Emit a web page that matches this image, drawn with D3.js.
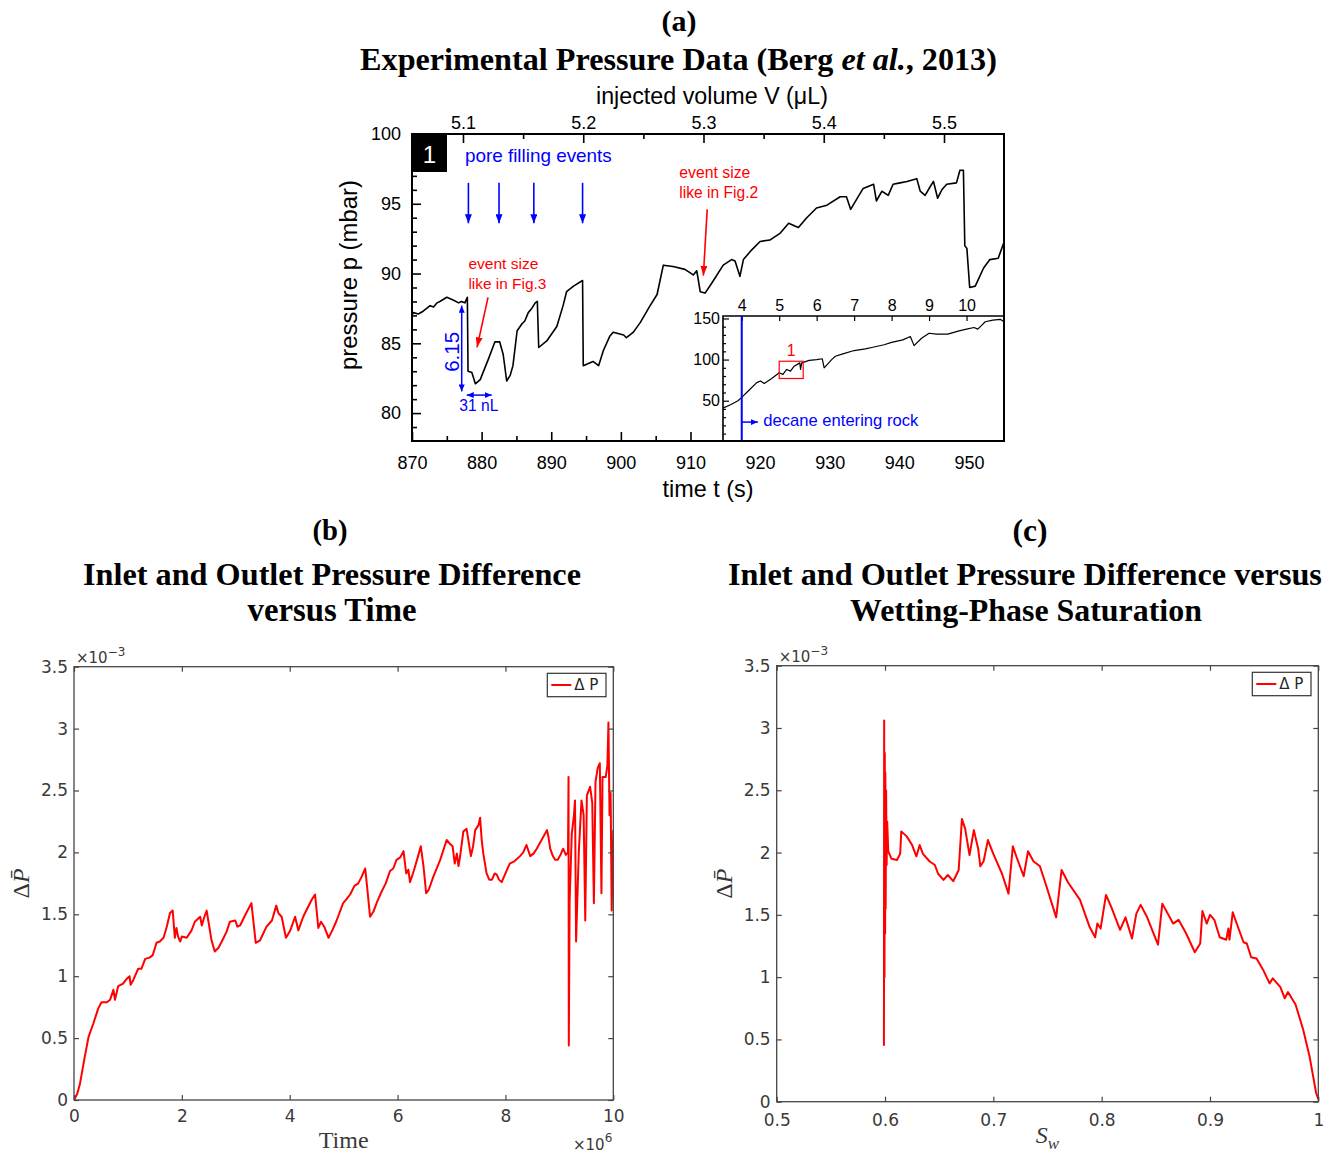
<!DOCTYPE html>
<html><head><meta charset="utf-8">
<script src="https://cdn.jsdelivr.net/npm/d3@7/dist/d3.min.js"></script>
<style>html,body{margin:0;padding:0;background:#fff}svg{display:block}</style>
</head><body>
<svg id="fig" width="1338" height="1155" xmlns="http://www.w3.org/2000/svg"></svg>
<script>
// ================= DATA =================
// Panel (a): experimental pressure vs time
const timeA = [870.0, 870.2, 870.9, 871.6, 872.6, 873.1, 873.6, 874.0, 875.0, 875.9,
  876.7, 877.1, 877.6, 877.95, 878.05, 878.6,
  879.1, 879.8, 881.0, 881.9, 882.6, 883.1, 883.6, 884.1, 884.5, 885.1, 885.8, 886.2, 886.7, 887.2, 887.7,
  888.0, 888.2, 889.4, 890.8, 891.7, 892.2, 893.2, 894.5, 894.6,
  896.0, 896.8, 897.5, 898.4, 898.9, 900.4, 900.8, 901.8, 902.8, 904.2,
  905.2, 906.1, 907.5, 909.2, 910.4, 910.9, 911.4, 912.1, 913.3, 914.7,
  915.9, 916.4, 917.1, 917.6, 918.8, 920.0, 921.4, 922.9, 924.1, 925.0,
  925.5, 926.7, 928.1, 929.6, 931.5, 932.4, 933.0, 933.6, 934.8, 936.3,
  936.7, 937.5, 938.4, 939.1, 940.1, 941.1, 942.5, 943.0, 943.7, 944.4,
  944.9, 945.5, 946.1, 946.8, 948.2, 948.7, 949.2, 949.4, 949.7, 950.1,
  950.9, 952.1, 953.0, 954.2, 955.0];
const pressureA = [87.0, 87.2, 87.1, 87.3, 87.7, 87.6, 87.9, 88.0, 88.3, 88.1,
  87.9, 88.0, 87.9, 88.3, 83.0, 82.9,
  82.1, 82.4, 83.9, 85.1, 85.1, 84.2, 82.3, 82.7, 83.4, 85.9, 86.4, 86.6, 87.2, 87.5, 87.9,
  88.0, 84.7, 85.2, 86.2, 87.7, 88.7, 89.1, 89.5, 83.4,
  83.7, 83.4, 84.5, 85.5, 85.8, 85.6, 85.4, 85.8, 86.5, 87.7,
  88.5, 90.6, 90.5, 90.3, 89.9, 90.2, 88.7, 88.6, 89.5, 90.6,
  91.0, 90.9, 89.8, 91.0, 91.7, 92.3, 92.4, 92.9, 93.6, 93.4,
  93.3, 94.0, 94.7, 94.9, 95.5, 95.5, 94.6, 95.1, 96.1, 96.4,
  95.2, 95.9, 95.6, 96.4, 96.5, 96.6, 96.8, 95.9, 95.6, 96.2,
  96.6, 95.4, 96.0, 96.4, 96.5, 97.4, 97.4, 92.0, 91.8, 89.0,
  89.1, 90.4, 91.0, 91.1, 92.2];
// Panel (a) inset: long-term record
const insetX = [3.5, 3.7, 3.9, 4.0, 4.2, 4.4, 4.5, 4.6, 4.8, 5.0, 5.1, 5.2, 5.3, 5.4, 5.55, 5.57, 5.6,
  5.8, 6.0, 6.15, 6.2, 6.4, 6.5, 6.7, 7.0, 7.3, 7.5, 7.8, 8.0, 8.3, 8.5, 8.6, 8.8, 9.0, 9.2,
  9.5, 9.8, 10.0, 10.2, 10.3, 10.5, 10.7, 10.9, 11.0];
const insetY = [41, 45, 50, 54, 63, 72, 74, 71, 77, 84, 82, 88, 86, 92, 96, 88, 96,
  99, 100, 101, 90, 100, 104, 107, 111, 113, 115, 118, 121, 124, 128, 117, 126, 132, 131,
  131, 135, 137, 139, 137, 146, 148, 149, 146];
const poreEventTimes = [878.1, 882.5, 887.5, 894.5];

// Panel (b): ΔP (×1e-3) vs time (×1e6)
const timeB = [0.00, 0.06, 0.11, 0.20, 0.27, 0.36, 0.45, 0.51, 0.61, 0.67, 0.73, 0.76, 0.82, 0.91, 0.98,
  1.03, 1.05, 1.10, 1.19, 1.25, 1.32, 1.40, 1.46, 1.53, 1.59, 1.66, 1.72, 1.78, 1.83, 1.87, 1.90, 1.93, 1.97,
  2.00, 2.09, 2.18, 2.24, 2.34, 2.37, 2.41, 2.46, 2.49, 2.55, 2.61, 2.68, 2.74, 2.83, 2.89, 2.99,
  3.03, 3.08, 3.17, 3.29, 3.37, 3.45, 3.57, 3.67, 3.75, 3.79, 3.85, 3.93,
  4.01, 4.10, 4.16, 4.25, 4.41, 4.47, 4.53, 4.58, 4.64, 4.72, 4.80, 4.87, 4.99,
  5.05, 5.12, 5.20, 5.27, 5.33, 5.40, 5.44, 5.49, 5.55, 5.62, 5.70, 5.78, 5.86, 5.92, 5.98,
  6.05, 6.11, 6.16, 6.20, 6.23, 6.30, 6.38, 6.43, 6.48, 6.53, 6.58, 6.66, 6.79, 6.91, 6.97,
  7.02, 7.06, 7.10, 7.13, 7.16, 7.22, 7.28, 7.33, 7.36, 7.40, 7.44, 7.50, 7.53, 7.56, 7.59, 7.65, 7.70,
  7.75, 7.80, 7.84, 7.88, 7.93, 8.00, 8.08, 8.17, 8.27, 8.33, 8.39, 8.46, 8.52, 8.58, 8.67, 8.77, 8.80,
  8.83, 8.88, 8.92, 8.97, 9.02, 9.07, 9.12, 9.16, 9.17, 9.175, 9.19, 9.23, 9.27, 9.29, 9.31, 9.36,
  9.41, 9.45, 9.48, 9.51, 9.57, 9.61, 9.64, 9.67, 9.71, 9.75, 9.78, 9.80, 9.86, 9.89, 9.91, 9.93,
  9.95, 9.97, 10.0];
const dpB = [0.00, 0.05, 0.13, 0.35, 0.51, 0.62, 0.74, 0.79, 0.79, 0.81, 0.89, 0.81, 0.92, 0.94, 0.98,
  1.00, 0.93, 0.97, 1.06, 1.06, 1.14, 1.15, 1.17, 1.27, 1.28, 1.31, 1.40, 1.51, 1.53, 1.31, 1.39, 1.32, 1.28,
  1.32, 1.31, 1.37, 1.44, 1.48, 1.41, 1.47, 1.53, 1.45, 1.29, 1.20, 1.23, 1.28, 1.36, 1.44, 1.45,
  1.40, 1.41, 1.49, 1.59, 1.27, 1.29, 1.40, 1.45, 1.57, 1.51, 1.48, 1.31,
  1.37, 1.48, 1.37, 1.48, 1.62, 1.66, 1.39, 1.44, 1.40, 1.31, 1.38, 1.45, 1.59,
  1.62, 1.66, 1.73, 1.75, 1.80, 1.87, 1.70, 1.48, 1.52, 1.60, 1.68, 1.75, 1.85, 1.87, 1.94,
  1.96, 2.01, 1.83, 1.86, 1.76, 1.85, 1.97, 2.05, 1.89, 1.67, 1.70, 1.80, 1.94, 2.10, 2.07,
  2.05, 1.91, 1.99, 1.89, 1.97, 2.17, 2.19, 2.05, 1.97, 2.05, 2.18, 2.22, 2.28, 2.10, 1.99, 1.83, 1.78,
  1.78, 1.83, 1.82, 1.78, 1.76, 1.83, 1.91, 1.93, 1.97, 2.00, 2.06, 1.97, 1.99, 2.03, 2.10, 2.18, 2.12,
  2.03, 1.97, 1.94, 1.94, 1.98, 2.03, 1.98, 2.00, 2.61, 0.44, 1.60, 2.15, 2.30, 2.42, 1.28, 2.00,
  2.42, 2.30, 1.45, 2.46, 2.53, 2.40, 1.59, 2.57, 2.68, 2.72, 1.67, 2.61, 2.61, 2.70, 3.05, 2.30,
  2.48, 1.53, 2.18];

// Panel (c): ΔP (×1e-3) vs wetting-phase saturation
const satC = [0.5990, 0.5992, 0.5995, 0.5998, 0.6001, 0.6003, 0.6006, 0.6010, 0.6015, 0.6020, 0.6030,
  0.606, 0.611, 0.614, 0.615, 0.620, 0.625, 0.629, 0.632, 0.635, 0.641, 0.646, 0.649, 0.654, 0.658,
  0.663, 0.668, 0.671, 0.674, 0.678, 0.682, 0.686, 0.688, 0.691, 0.695, 0.700, 0.708, 0.714, 0.718,
  0.722, 0.728, 0.732, 0.737, 0.743, 0.749, 0.758, 0.763, 0.769, 0.780, 0.789, 0.794, 0.796, 0.799,
  0.804, 0.809, 0.817, 0.822, 0.828, 0.832, 0.836, 0.842, 0.852, 0.856, 0.866, 0.871, 0.878, 0.886,
  0.891, 0.893, 0.897, 0.900, 0.904, 0.909, 0.915, 0.917, 0.918, 0.921, 0.928, 0.931, 0.934, 0.938,
  0.943, 0.949, 0.955, 0.958, 0.965, 0.969, 0.972, 0.979, 0.986, 0.992, 0.998, 1.000];
const dpC = [0.45, 3.06, 1.00, 2.80, 1.35, 2.64, 1.55, 2.50, 1.90, 2.25, 2.01,
  1.95, 1.94, 1.99, 2.17, 2.13, 2.06, 1.97, 2.06, 1.99, 1.93, 1.90, 1.83, 1.78, 1.82,
  1.77, 1.86, 2.27, 2.19, 1.98, 2.18, 2.03, 1.89, 1.93, 2.10, 1.99, 1.83, 1.67, 2.05,
  1.95, 1.81, 2.01, 1.93, 1.89, 1.73, 1.48, 1.86, 1.76, 1.62, 1.40, 1.32, 1.43, 1.39,
  1.66, 1.56, 1.38, 1.48, 1.31, 1.51, 1.58, 1.48, 1.26, 1.59, 1.43, 1.46, 1.35, 1.20,
  1.27, 1.53, 1.43, 1.50, 1.46, 1.32, 1.30, 1.39, 1.30, 1.52, 1.35, 1.28, 1.27, 1.16,
  1.15, 1.06, 0.95, 0.99, 0.92, 0.83, 0.88, 0.78, 0.58, 0.36, 0.07, 0.02];

// Tick values
const xTicksA = [870, 880, 890, 900, 910, 920, 930, 940, 950];
const xMinorA = [875, 885, 895, 905, 915, 925, 935, 945];
const yTicksA = [80, 85, 90, 95, 100];
const yMinorA = [79, 81, 82, 83, 84, 86, 87, 88, 89, 91, 92, 93, 94, 96, 97, 98, 99];
const volTicksA = [5.1, 5.2, 5.3, 5.4, 5.5];
const volMinorA = [5.15, 5.25, 5.35, 5.45];
const xTicksInset = [4, 5, 6, 7, 8, 9, 10];
const yTicksInset = [50, 100, 150];
const yMinorInset = [10, 20, 30, 40, 60, 70, 80, 90, 110, 120, 130, 140];
const xTicksB = [0, 2, 4, 6, 8, 10];
const yTicksBC = [0, 0.5, 1, 1.5, 2, 2.5, 3, 3.5];
const xTicksC = [0.5, 0.6, 0.7, 0.8, 0.9, 1];

// ================= DRAWING =================
const svg = d3.select('#fig');
const SANS = "'Liberation Sans', Arial, Helvetica, sans-serif";
const SERIF = "'Liberation Serif', 'Times New Roman', serif";
const ML = "'DejaVu Sans', sans-serif";

function fit(sel, w) {
  const L = sel.node().getComputedTextLength();
  const fs = parseFloat(sel.attr('font-size'));
  if (L > 0) sel.attr('font-size', (fs * w / L).toFixed(2));
  return sel;
}
const defs = svg.append('defs');
function marker(id, color, len, wid) {
  defs.append('marker').attr('id', id).attr('viewBox', `0 0 ${len} ${wid}`)
    .attr('refX', len).attr('refY', wid / 2).attr('markerWidth', len).attr('markerHeight', wid)
    .attr('markerUnits', 'userSpaceOnUse').attr('orient', 'auto-start-reverse')
    .append('path').attr('d', `M0,0 L${len},${wid / 2} L0,${wid} Z`).attr('fill', color);
}
marker('hb', '#0000ff', 9, 7);
marker('hbs', '#0000ff', 7, 6);
marker('hr', '#ff0000', 10, 7);

function styleAxis(g, color, fam, size, sw) {
  g.select('.domain').remove();
  g.attr('color', color).attr('font-family', fam).attr('font-size', size);
  g.selectAll('line').attr('stroke-width', sw);
  return g;
}

// ---------- Titles ----------
function title(txt, x, y, w, italicPart) {
  const t = svg.append('text').attr('x', x).attr('y', y).attr('text-anchor', 'middle')
    .attr('font-family', SERIF).attr('font-weight', 'bold').attr('font-size', 28).attr('fill', '#000');
  if (italicPart) {
    t.append('tspan').text(txt[0]);
    t.append('tspan').attr('font-style', 'italic').text(txt[1]);
    t.append('tspan').text(txt[2]);
  } else t.text(txt);
  if (w) fit(t, w);
  return t;
}
title('(a)', 679, 31, 35);
title(['Experimental Pressure Data (Berg ', 'et al.', ', 2013)'], 678.5, 70, 637, true);
title('(b)', 330, 540, 35);
title('Inlet and Outlet Pressure Difference', 332, 585, 498);
title('versus Time', 332, 621, 169);
title('(c)', 1030, 541, 35);
title('Inlet and Outlet Pressure Difference versus', 1025, 585, 594);
title('Wetting-Phase Saturation', 1026, 621, 352);

// ---------- Panel (a) ----------
const A = { l: 412, r: 1004, t: 134, b: 441 };
const xA = d3.scaleLinear().domain([870, 955.03]).range([A.l, A.r]);
const yA = d3.scaleLinear().domain([78, 100]).range([A.b, A.t]);
const vA = d3.scaleLinear().domain([5.0576, 5.5499]).range([A.l, A.r]);
const gA = svg.append('g');

gA.append('path').datum(d3.zip(timeA, pressureA))
  .attr('d', d3.line().x(d => xA(d[0])).y(d => yA(d[1])))
  .attr('fill', 'none').attr('stroke', '#000').attr('stroke-width', 1.6).attr('stroke-linejoin', 'round');

// axes
styleAxis(gA.append('g').attr('transform', `translate(0,${A.b})`)
  .call(d3.axisBottom(xA).tickValues(xTicksA).tickSize(-9).tickPadding(15).tickFormat(d3.format('d'))), '#000', SANS, 18, 1.6);
styleAxis(gA.append('g').attr('transform', `translate(0,${A.b})`)
  .call(d3.axisBottom(xA).tickValues(xMinorA).tickSize(-5).tickFormat('')), '#000', SANS, 18, 1.6);
styleAxis(gA.append('g').attr('transform', `translate(${A.l},0)`)
  .call(d3.axisLeft(yA).tickValues(yTicksA).tickSize(-9).tickPadding(11).tickFormat(d3.format('d'))), '#000', SANS, 18, 1.6);
styleAxis(gA.append('g').attr('transform', `translate(${A.l},0)`)
  .call(d3.axisLeft(yA).tickValues(yMinorA).tickSize(-5).tickFormat('')), '#000', SANS, 18, 1.6);
styleAxis(gA.append('g').attr('transform', `translate(0,${A.t})`)
  .call(d3.axisTop(vA).tickValues(volTicksA).tickSize(-9).tickPadding(5).tickFormat(d3.format('.1f'))), '#000', SANS, 18, 1.6);
styleAxis(gA.append('g').attr('transform', `translate(0,${A.t})`)
  .call(d3.axisTop(vA).tickValues(volMinorA).tickSize(-5).tickFormat('')), '#000', SANS, 18, 1.6);

// frame
gA.append('path').attr('d', `M${A.l},${A.t}H${A.r}V${A.b}H${A.l}Z`).attr('fill', 'none')
  .attr('stroke', '#000').attr('stroke-width', 2);

// axis labels
fit(gA.append('text').attr('x', 708).attr('y', 497).attr('text-anchor', 'middle').attr('font-family', SANS)
  .attr('font-size', 20).text('time t (s)'), 91);
fit(gA.append('text').attr('x', 712).attr('y', 104).attr('text-anchor', 'middle').attr('font-family', SANS)
  .attr('font-size', 20).text('injected volume V (μL)'), 232);
fit(gA.append('text').attr('transform', 'translate(357,275) rotate(-90)').attr('text-anchor', 'middle')
  .attr('font-family', SANS).attr('font-size', 20).text('pressure p (mbar)'), 190);

// black label box "1"
gA.append('rect').attr('x', A.l).attr('y', A.t + 1).attr('width', 35).attr('height', 37).attr('fill', '#000');
gA.append('text').attr('x', A.l + 17.5).attr('y', A.t + 29).attr('text-anchor', 'middle').attr('font-family', SANS)
  .attr('font-size', 24).attr('fill', '#fff').text('1');

// pore filling events
fit(gA.append('text').attr('x', xA(877.6)).attr('y', yA(98.0)).attr('font-family', SANS).attr('font-size', 19)
  .attr('fill', '#0000ff').text('pore filling events'), 147);
gA.selectAll('line.pore').data(poreEventTimes).join('line').attr('class', 'pore')
  .attr('x1', d => xA(d)).attr('x2', d => xA(d)).attr('y1', yA(96.5)).attr('y2', yA(93.6))
  .attr('stroke', '#0000ff').attr('stroke-width', 1.6).attr('marker-end', 'url(#hb)');

// event size annotations
function redNote(x, y1, y2, w1, w2, line2) {
  fit(gA.append('text').attr('x', xA(x)).attr('y', yA(y1)).attr('font-family', SANS).attr('font-size', 15)
    .attr('fill', '#ff0000').text('event size'), w1);
  fit(gA.append('text').attr('x', xA(x)).attr('y', yA(y2)).attr('font-family', SANS).attr('font-size', 15)
    .attr('fill', '#ff0000').text(line2), w2);
}
redNote(908.4, 96.86, 95.43, 71, 79, 'like in Fig.2');
redNote(878.1, 90.36, 88.91, 70, 78, 'like in Fig.3');
gA.append('line').attr('x1', xA(912.4)).attr('y1', yA(94.6)).attr('x2', xA(911.85)).attr('y2', yA(89.85))
  .attr('stroke', '#ff0000').attr('stroke-width', 1.6).attr('marker-end', 'url(#hr)');
gA.append('line').attr('x1', xA(880.92)).attr('y1', yA(88.29)).attr('x2', xA(879.34)).attr('y2', yA(84.71))
  .attr('stroke', '#ff0000').attr('stroke-width', 1.6).attr('marker-end', 'url(#hr)');

// 6.15 and 31 nL
gA.append('line').attr('x1', xA(877.14)).attr('x2', xA(877.14)).attr('y1', yA(87.7)).attr('y2', yA(81.55))
  .attr('stroke', '#0000ff').attr('stroke-width', 1.5).attr('marker-start', 'url(#hbs)').attr('marker-end', 'url(#hbs)');
fit(gA.append('text').attr('transform', `translate(${xA(876.75)},${yA(84.39)}) rotate(-90)`).attr('text-anchor', 'middle')
  .attr('font-family', SANS).attr('font-size', 18).attr('fill', '#0000ff').text('6.15'), 40);
gA.append('line').attr('x1', xA(877.86)).attr('x2', xA(881.45)).attr('y1', yA(81.29)).attr('y2', yA(81.29))
  .attr('stroke', '#0000ff').attr('stroke-width', 1.5).attr('marker-start', 'url(#hbs)').attr('marker-end', 'url(#hbs)');
fit(gA.append('text').attr('x', xA(879.6)).attr('y', yA(80.16)).attr('text-anchor', 'middle')
  .attr('font-family', SANS).attr('font-size', 16).attr('fill', '#0000ff').text('31 nL'), 39);

// ---------- Inset ----------
const I = { l: 723, r: 1004, t: 316, b: 441 };
const xI = d3.scaleLinear().domain([3.5, 11]).range([I.l, I.r]);
const yI = d3.scaleLinear().domain([1, 153]).range([I.b, I.t]);
const gI = svg.append('g');
gI.append('rect').attr('x', I.l).attr('y', I.t).attr('width', I.r - I.l).attr('height', I.b - I.t).attr('fill', '#fff');
gI.append('path').datum(d3.zip(insetX, insetY))
  .attr('d', d3.line().x(d => xI(d[0])).y(d => yI(d[1])))
  .attr('fill', 'none').attr('stroke', '#000').attr('stroke-width', 1.2).attr('stroke-linejoin', 'round');
styleAxis(gI.append('g').attr('transform', `translate(${I.l},0)`)
  .call(d3.axisLeft(yI).tickValues(yTicksInset).tickSize(-6).tickPadding(3).tickFormat(d3.format('d'))), '#000', SANS, 16, 1.2);
styleAxis(gI.append('g').attr('transform', `translate(${I.l},0)`)
  .call(d3.axisLeft(yI).tickValues(yMinorInset).tickSize(-3).tickFormat('')), '#000', SANS, 16, 1.2);
styleAxis(gI.append('g').attr('transform', `translate(0,${I.t})`)
  .call(d3.axisTop(xI).tickValues(xTicksInset).tickSize(-5).tickPadding(5).tickFormat(d3.format('d'))), '#000', SANS, 16, 1.2);
gI.append('path').attr('d', `M${I.l},${I.b}V${I.t}H${I.r}`).attr('fill', 'none').attr('stroke', '#000').attr('stroke-width', 1.6);
// decane entering rock
gI.append('line').attr('x1', xI(4)).attr('x2', xI(4)).attr('y1', I.t).attr('y2', I.b)
  .attr('stroke', '#0000ff').attr('stroke-width', 2);
gI.append('line').attr('x1', xI(4)).attr('x2', xI(4.43)).attr('y1', yI(24)).attr('y2', yI(24))
  .attr('stroke', '#0000ff').attr('stroke-width', 1.5).attr('marker-end', 'url(#hbs)');
fit(gI.append('text').attr('x', xI(4.575)).attr('y', yI(19)).attr('font-family', SANS).attr('font-size', 16)
  .attr('fill', '#0000ff').text('decane entering rock'), 155);
// zoom box
gI.append('rect').attr('x', xI(5.0)).attr('y', yI(98)).attr('width', xI(5.64) - xI(5.0)).attr('height', yI(77) - yI(98))
  .attr('fill', 'none').attr('stroke', '#ff0000').attr('stroke-width', 1.2);
gI.append('text').attr('x', xI(5.32)).attr('y', yI(104)).attr('text-anchor', 'middle').attr('font-family', SANS)
  .attr('font-size', 16).attr('fill', '#ff0000').text('1');
gA.raise();
gI.raise();
svg.append('path').attr('d', `M${A.l},${A.b}H${A.r}V${A.t}`).attr('fill', 'none').attr('stroke', '#000').attr('stroke-width', 2);

// ---------- Panels (b) & (c) ----------
const AX = '#454545';
function matlab(box, xs, ys, xT, xFmt, xData, yData, xPad) {
  const g = svg.append('g');
  g.append('defs').append('clipPath').attr('id', 'clip' + Math.round(box.l)).append('rect')
    .attr('x', box.l).attr('y', box.t).attr('width', box.r - box.l).attr('height', box.b - box.t);
  g.append('path').datum(d3.zip(xData, yData))
    .attr('clip-path', `url(#clip${Math.round(box.l)})`)
    .attr('d', d3.line().x(d => xs(d[0])).y(d => ys(d[1])))
    .attr('fill', 'none').attr('stroke', '#ff0000').attr('stroke-width', 2).attr('stroke-linejoin', 'round');
  styleAxis(g.append('g').attr('transform', `translate(0,${box.b})`)
    .call(d3.axisBottom(xs).tickValues(xT).tickSize(-5).tickPadding(xPad).tickFormat(xFmt)), AX, ML, 17, 1.2);
  styleAxis(g.append('g').attr('transform', `translate(0,${box.t})`)
    .call(d3.axisTop(xs).tickValues(xT).tickSize(-5).tickFormat('')), AX, ML, 17, 1.2);
  styleAxis(g.append('g').attr('transform', `translate(${box.l},0)`)
    .call(d3.axisLeft(ys).tickValues(yTicksBC).tickSize(-5).tickPadding(6).tickFormat(d3.format('~g'))), AX, ML, 17, 1.2);
  styleAxis(g.append('g').attr('transform', `translate(${box.r},0)`)
    .call(d3.axisRight(ys).tickValues(yTicksBC).tickSize(-5).tickFormat('')), AX, ML, 17, 1.2);
  g.selectAll('text').attr('fill', '#3a3a3a');
  g.append('rect').attr('x', box.l).attr('y', box.t).attr('width', box.r - box.l).attr('height', box.b - box.t)
    .attr('fill', 'none').attr('stroke', AX).attr('stroke-width', 1.3);
  // exponent
  const e = g.append('text').attr('x', box.l + 2).attr('y', box.t - 4).attr('font-family', ML).attr('font-size', 15).attr('fill', '#3a3a3a');
  e.append('tspan').text('×10');
  e.append('tspan').attr('dy', -7).attr('font-size', 12).text('−3');
  // legend
  const lx = box.r - 66, ly = box.t + 6.6;
  g.append('rect').attr('x', lx).attr('y', ly).attr('width', 58.7).attr('height', 23.4)
    .attr('fill', '#fff').attr('stroke', '#333').attr('stroke-width', 1.2);
  g.append('line').attr('x1', lx + 4).attr('x2', lx + 24).attr('y1', ly + 11.7).attr('y2', ly + 11.7)
    .attr('stroke', '#ff0000').attr('stroke-width', 2);
  g.append('text').attr('x', lx + 27).attr('y', ly + 17).attr('font-family', ML).attr('font-size', 15)
    .attr('fill', '#262626').attr('xml:space', 'preserve').text('Δ P');
  // y label
  const yl = g.append('text').attr('transform', `translate(${box.l - 45},${(box.t + box.b) / 2}) rotate(-90)`)
    .attr('text-anchor', 'middle').attr('font-family', SERIF).attr('font-size', 24).attr('fill', '#333');
  yl.append('tspan').text('Δ');
  yl.append('tspan').attr('font-style', 'italic').text('P\u0304');
  return g;
}

const B = { l: 74, r: 613.3, t: 666.7, b: 1100 };
const xB = d3.scaleLinear().domain([0, 10]).range([B.l, B.r]);
const yB = d3.scaleLinear().domain([0, 3.5]).range([B.b, B.t]);
const gB = matlab(B, xB, yB, xTicksB, d3.format('d'), timeB, dpB, 10);
gB.append('text').attr('x', (B.l + B.r) / 2).attr('y', 1148).attr('text-anchor', 'middle')
  .attr('font-family', SERIF).attr('font-size', 24).attr('fill', '#3a3a3a').text('Time');
const e6 = gB.append('text').attr('x', B.r - 1).attr('y', 1150).attr('text-anchor', 'end')
  .attr('font-family', ML).attr('font-size', 15).attr('fill', '#3a3a3a');
e6.append('tspan').text('×10');
e6.append('tspan').attr('dy', -8).attr('font-size', 12).text('6');

const C = { l: 776.7, r: 1318.3, t: 665.7, b: 1101.7 };
const xC = d3.scaleLinear().domain([0.5, 1]).range([C.l, C.r]);
const yC = d3.scaleLinear().domain([0, 3.5]).range([C.b, C.t]);
const gC = matlab(C, xC, yC, xTicksC, d3.format('~g'), satC, dpC, 12);
const sw = gC.append('text').attr('x', (C.l + C.r) / 2).attr('y', 1143).attr('text-anchor', 'middle')
  .attr('font-family', SERIF).attr('font-size', 24).attr('font-style', 'italic').attr('fill', '#3a3a3a');
sw.append('tspan').text('S');
sw.append('tspan').attr('dy', 6).attr('font-size', 17).text('w');
</script>
</body></html>
